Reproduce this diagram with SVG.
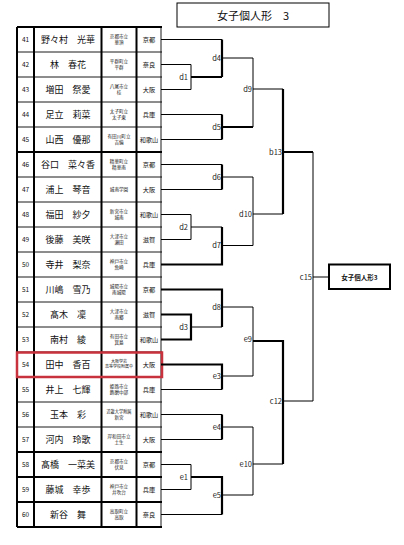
<svg xmlns="http://www.w3.org/2000/svg" width="404" height="545" viewBox="0 0 404 545">
<style>
text{font-family:"Noto Sans CJK JP","Noto Sans",sans-serif;fill:#111}
.num{font-size:6.5px;text-anchor:middle}
.nm{font-size:9px;text-anchor:middle}
.sc{font-size:4.6px;text-anchor:middle}
.pf{font-size:6.2px;text-anchor:middle}
.lb{font-size:7.5px;text-anchor:end;fill:#222}
.t{stroke:#000;stroke-width:1;fill:none}
.k{stroke:#000;stroke-width:2.2;fill:none}
.tl{stroke:#000;stroke-width:0.9;fill:none}
.tk{stroke:#000;stroke-width:2;fill:none}
</style>
<rect width="404" height="545" fill="#fff"/>
<g id="title">
<rect x="177" y="3" width="152" height="24" fill="#fff" stroke="#000" stroke-width="1"/>
<text x="253" y="19.5" style="font-size:11px;text-anchor:middle">女子個人形　3</text>
</g>
<g id="table">
<path class="tl" d="M17 52H162M17 77H162M17 102H162M17 127H162M17 177H162M17 202H162M17 227H162M17 252H162M17 277H162M17 302H162M17 327H162M17 352H162M17 377H162M17 402H162M17 427H162M161 27V527"/>
<path class="tk" d="M17 27H162M17 152H162M17 452H162M17 477H162M17 502H162M17 527H162M17 27V527M34 27V527M101.5 27V527M136.5 27V527"/>
</g>
<g id="p41"><text class="num" x="25.5" y="42">41</text><text class="nm" x="68" y="42.5">野々村　光華</text><text class="sc" x="119" y="37.5">京都市立</text><text class="sc" x="119" y="43.5">華頂</text><text class="pf" x="149" y="42">京都</text></g>
<g id="p42"><text class="num" x="25.5" y="67">42</text><text class="nm" x="68" y="67.5">林　春花</text><text class="sc" x="119" y="62.5">平群町立</text><text class="sc" x="119" y="68.5">平群</text><text class="pf" x="149" y="67">奈良</text></g>
<g id="p43"><text class="num" x="25.5" y="92">43</text><text class="nm" x="68" y="92.5">増田　祭愛</text><text class="sc" x="119" y="87.5">八尾市立</text><text class="sc" x="119" y="93.5">桂</text><text class="pf" x="149" y="92">大阪</text></g>
<g id="p44"><text class="num" x="25.5" y="117">44</text><text class="nm" x="68" y="117.5">足立　莉菜</text><text class="sc" x="119" y="112.5">太子町立</text><text class="sc" x="119" y="118.5">太子東</text><text class="pf" x="149" y="117">兵庫</text></g>
<g id="p45"><text class="num" x="25.5" y="142">45</text><text class="nm" x="68" y="142.5">山西　優那</text><text class="sc" x="119" y="137.5">有田川町立</text><text class="sc" x="119" y="143.5">吉備</text><text class="pf" x="149" y="142">和歌山</text></g>
<g id="p46"><text class="num" x="25.5" y="167">46</text><text class="nm" x="68" y="167.5">谷口　菜々香</text><text class="sc" x="119" y="162.5">精華町立</text><text class="sc" x="119" y="168.5">精華南</text><text class="pf" x="149" y="167">京都</text></g>
<g id="p47"><text class="num" x="25.5" y="192">47</text><text class="nm" x="68" y="192.5">浦上　琴音</text><text class="sc" x="119" y="191">城南学園</text><text class="pf" x="149" y="192">大阪</text></g>
<g id="p48"><text class="num" x="25.5" y="217">48</text><text class="nm" x="68" y="217.5">福田　紗夕</text><text class="sc" x="119" y="212.5">新宮市立</text><text class="sc" x="119" y="218.5">城南</text><text class="pf" x="149" y="217">和歌山</text></g>
<g id="p49"><text class="num" x="25.5" y="242">49</text><text class="nm" x="68" y="242.5">後藤　美咲</text><text class="sc" x="119" y="237.5">大津市立</text><text class="sc" x="119" y="243.5">瀬田</text><text class="pf" x="149" y="242">滋賀</text></g>
<g id="p50"><text class="num" x="25.5" y="267">50</text><text class="nm" x="68" y="267.5">寺井　梨奈</text><text class="sc" x="119" y="262.5">神戸市立</text><text class="sc" x="119" y="268.5">魚崎</text><text class="pf" x="149" y="267">兵庫</text></g>
<g id="p51"><text class="num" x="25.5" y="292">51</text><text class="nm" x="68" y="292.5">川嶋　雪乃</text><text class="sc" x="119" y="287.5">城陽市立</text><text class="sc" x="119" y="293.5">南城陽</text><text class="pf" x="149" y="292">京都</text></g>
<g id="p52"><text class="num" x="25.5" y="317">52</text><text class="nm" x="68" y="317.5">髙木　凜</text><text class="sc" x="119" y="312.5">大津市立</text><text class="sc" x="119" y="318.5">南郷</text><text class="pf" x="149" y="317">滋賀</text></g>
<g id="p53"><text class="num" x="25.5" y="342">53</text><text class="nm" x="68" y="342.5">南村　綾</text><text class="sc" x="119" y="337.5">有田市立</text><text class="sc" x="119" y="343.5">箕島</text><text class="pf" x="149" y="342">和歌山</text></g>
<g id="p54"><text class="num" x="25.5" y="367">54</text><text class="nm" x="68" y="367.5">田中　香百</text><text class="sc" x="119" y="362.5" style="font-size:4px">大阪学芸</text><text class="sc" x="119" y="368" style="font-size:4px">高等学校附属中</text><text class="pf" x="149" y="367">大阪</text>
<rect x="17" y="352.5" width="145" height="24.5" fill="none" stroke="#c8323c" stroke-width="2.5"/></g>
<g id="p55"><text class="num" x="25.5" y="392">55</text><text class="nm" x="68" y="392.5">井上　七輝</text><text class="sc" x="119" y="387.5">姫路市立</text><text class="sc" x="119" y="393.5">飾磨中部</text><text class="pf" x="149" y="392">兵庫</text></g>
<g id="p56"><text class="num" x="25.5" y="417">56</text><text class="nm" x="68" y="417.5">玉本　彩</text><text class="sc" x="119" y="412.5" style="font-size:4.2px">近畿大学附属</text><text class="sc" x="119" y="418.5">新宮</text><text class="pf" x="149" y="417">和歌山</text></g>
<g id="p57"><text class="num" x="25.5" y="442">57</text><text class="nm" x="68" y="442.5">河内　玲歌</text><text class="sc" x="119" y="437.5">岸和田市立</text><text class="sc" x="119" y="443.5">土生</text><text class="pf" x="149" y="442">大阪</text></g>
<g id="p58"><text class="num" x="25.5" y="467">58</text><text class="nm" x="68" y="467.5">髙橋　一菜美</text><text class="sc" x="119" y="462.5">京都市立</text><text class="sc" x="119" y="468.5">伏見</text><text class="pf" x="149" y="467">京都</text></g>
<g id="p59"><text class="num" x="25.5" y="492">59</text><text class="nm" x="68" y="492.5">藤城　幸歩</text><text class="sc" x="119" y="487.5">神戸市立</text><text class="sc" x="119" y="493.5">井吹台</text><text class="pf" x="149" y="492">兵庫</text></g>
<g id="p60"><text class="num" x="25.5" y="517">60</text><text class="nm" x="68" y="517.5">新谷　舞</text><text class="sc" x="119" y="512.5">高取町立</text><text class="sc" x="119" y="518.5">高取</text><text class="pf" x="149" y="517">奈良</text></g>
<g id="connectors">
<path class="t" d="M161 39.5H222M161 64.5H191V89.5H161M222 58H253V127M253 89H283M161 114.5H222M161 139.5H222M161 164.5H222M161 189.5H222M222 177H253V245.5H222M253 214H283M161 214.5H191V239.5H161M191 227H222M313 152V401H283M313 277H329M161 389.5H222M222 307H253V376H222M191 327H222M161 414.5H222M161 439.5H222M222 427H253V495H222M253 464H283M161 464.5H191V489.5H161M161 514.5H222"/>
<path class="k" d="M191 77H222M222 39.5V77M222 114.5V139.5M222 127H253M283 89V214M283 152H313M222 164.5V189.5M161 264.5H222V227M161 289.5H222V327M161 314.5H191V339.5H161M253 341H283V464M161 364.5H222V389.5M222 414.5V439.5M191 477H222V514.5"/>
</g>
<g id="labels">
<text class="lb" x="188" y="79.5">d1</text>
<text class="lb" x="221" y="60.5">d4</text>
<text class="lb" x="221" y="129.5">d5</text>
<text class="lb" x="252" y="91.5">d9</text>
<text class="lb" x="282" y="154.5">b13</text>
<text class="lb" x="221" y="179.5">d6</text>
<text class="lb" x="188" y="229.5">d2</text>
<text class="lb" x="221" y="248">d7</text>
<text class="lb" x="252" y="216.5">d10</text>
<text class="lb" x="312" y="279.5">c15</text>
<text class="lb" x="221" y="309.5">d8</text>
<text class="lb" x="188" y="329.5">d3</text>
<text class="lb" x="252" y="342">e9</text>
<text class="lb" x="221" y="378.5">e3</text>
<text class="lb" x="282" y="403.5">c12</text>
<text class="lb" x="221" y="429.5">e4</text>
<text class="lb" x="188" y="479.5">e1</text>
<text class="lb" x="221" y="497.5">e5</text>
<text class="lb" x="252" y="466.5">e10</text>
</g>
<g id="result">
<rect x="329" y="264.5" width="61" height="24.5" fill="#fff" stroke="#000" stroke-width="2"/>
<text x="359.5" y="279.5" style="font-size:6.5px;text-anchor:middle;font-weight:bold">女子個人形3</text>
</g>
</svg>
